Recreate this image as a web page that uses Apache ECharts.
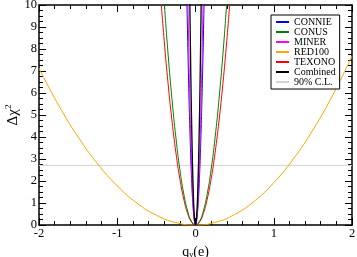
<!DOCTYPE html>
<html>
<head>
<meta charset="utf-8">
<script src="https://cdn.jsdelivr.net/npm/echarts@6/dist/echarts.min.js"></script>
<style>html,body{margin:0;padding:0;background:#fff}#c{width:357px;height:257px}</style>
</head>
<body>
<div id="c"></div>
<script>
const seriesNames = ['CONNIE','CONUS','MINER','RED100','TEXONO','Combined','90% C.L.'];
const xTicks = [-2,-1,0,1,2];
const yTicks = [0,1,2,3,4,5,6,7,8,9,10];
const connie = [[-0.11,10.19],[-0.09,6.82],[-0.07,4.13],[-0.05,2.11],[-0.03,0.76],[-0.01,0.08],[0,0],[0.01,0.08],[0.03,0.76],[0.05,2.11],[0.07,4.13],[0.09,6.82],[0.11,10.19]];
const conus = [[-0.42,11.17],[-0.4,10.13],[-0.35,7.75],[-0.3,5.70],[-0.25,3.96],[-0.2,2.53],[-0.15,1.42],[-0.1,0.63],[-0.05,0.16],[0,0],[0.05,0.16],[0.1,0.63],[0.15,1.42],[0.2,2.53],[0.25,3.96],[0.3,5.70],[0.35,7.75],[0.4,10.13],[0.42,11.17]];
const miner = [[-0.1,10.82],[-0.08,6.92],[-0.06,3.90],[-0.04,1.73],[-0.02,0.43],[0,0],[0.02,0.43],[0.04,1.73],[0.06,3.90],[0.08,6.92],[0.1,10.82]];
const red100 = [[-2,7.12],[-1.75,5.45],[-1.5,4.0],[-1.25,2.78],[-1,1.78],[-0.75,1.0],[-0.5,0.445],[-0.25,0.11],[0,0],[0.25,0.12],[0.5,0.48],[0.75,1.08],[1,1.92],[1.25,3.0],[1.5,4.32],[1.75,5.88],[2,7.68]];
const texono = [[-0.46,11.09],[-0.45,10.61],[-0.4,8.38],[-0.35,6.42],[-0.3,4.72],[-0.25,3.28],[-0.2,2.10],[-0.15,1.18],[-0.1,0.52],[-0.05,0.13],[0,0],[0.05,0.13],[0.1,0.52],[0.15,1.18],[0.2,2.10],[0.25,3.28],[0.3,4.72],[0.35,6.42],[0.4,8.38],[0.45,10.61],[0.46,11.09]];
const combined = [[-0.075,10.69],[-0.06,6.84],[-0.045,3.85],[-0.03,1.71],[-0.015,0.43],[0,0],[0.015,0.43],[0.03,1.71],[0.045,3.85],[0.06,6.84],[0.075,10.69]];
const cl90 = [[-2,2.71],[2,2.71]];

const colors = {CONNIE:'#0000ff',CONUS:'#008000',MINER:'#ff00ff',RED100:'#ffa500',TEXONO:'#ff0000',Combined:'#000000','90% C.L.':'#d3d3d3'};
const dataMap = {CONNIE:connie,CONUS:conus,MINER:miner,RED100:red100,TEXONO:texono,Combined:combined,'90% C.L.':cl90};
const zMap = {'90% C.L.':1,RED100:2,TEXONO:3,CONUS:4,CONNIE:5,MINER:6,Combined:7};
const font = '"Liberation Serif", "DejaVu Serif", serif';

const chart = echarts.init(document.getElementById('c'), null, {renderer:'canvas'});
const axisCommon = {
  type:'value',
  axisLine:{show:true,onZero:false,lineStyle:{color:'#000',width:1.5}},
  axisTick:{show:true,inside:true,length:7,lineStyle:{color:'#000',width:1}},
  minorTick:{show:true,length:4,lineStyle:{color:'#000',width:1}},
  splitLine:{show:false},
  axisLabel:{color:'#000',fontFamily:font,fontSize:12.5}
};
chart.setOption({
  animation:false,
  backgroundColor:'#fff',
  textStyle:{fontFamily:font},
  grid:{left:39,right:5,top:5,bottom:32,containLabel:false,outerBoundsMode:'none'},
  legend:{
    data:seriesNames,
    orient:'vertical',
    left:271, top:15,
    backgroundColor:'#fff',
    borderColor:'#000', borderWidth:1,
    padding:[2,4,2,4],
    itemWidth:13, itemHeight:8.6, itemGap:0,
    itemStyle:{opacity:0},
    textStyle:{fontFamily:font,fontSize:10,color:'#000',lineHeight:8.6},
    selectedMode:false
  },
  xAxis:[
    Object.assign({}, axisCommon, {
      min:xTicks[0], max:xTicks[xTicks.length-1], interval:1,
      minorTick:Object.assign({},axisCommon.minorTick,{splitNumber:5}),
      axisLabel:Object.assign({},axisCommon.axisLabel,{margin:2}),
      name:'{q|q}{s|ν}{q|(e)}', nameLocation:'middle', nameGap:14,
      nameTextStyle:{fontFamily:font,rich:{q:{fontFamily:font,fontSize:14,color:'#000'},s:{fontFamily:font,fontSize:9,color:'#000',padding:[6,0,0,0]}}}
    }),
    Object.assign({}, axisCommon, {
      position:'top', min:xTicks[0], max:xTicks[xTicks.length-1], interval:1,
      minorTick:Object.assign({},axisCommon.minorTick,{splitNumber:5}),
      axisLabel:{show:false}
    })
  ],
  yAxis:[
    Object.assign({}, axisCommon, {
      min:yTicks[0], max:yTicks[yTicks.length-1], interval:1,
      minorTick:Object.assign({},axisCommon.minorTick,{splitNumber:4}),
      axisLabel:Object.assign({},axisCommon.axisLabel,{margin:2}),
      name:'{a|Δχ}{p|2}', nameLocation:'middle', nameGap:17, nameRotate:90, nameMoveOverlap:false,
      nameTextStyle:{fontFamily:font,rich:{a:{fontFamily:font,fontSize:15,color:'#000'},p:{fontFamily:font,fontSize:9,color:'#000',padding:[0,0,9,0]}}}
    }),
    Object.assign({}, axisCommon, {
      position:'right', min:yTicks[0], max:yTicks[yTicks.length-1], interval:1,
      minorTick:Object.assign({},axisCommon.minorTick,{splitNumber:4}),
      axisLabel:{show:false}
    })
  ],
  series:seriesNames.map(n=>({
    name:n, type:'line', data:dataMap[n], xAxisIndex:0, yAxisIndex:0,
    smooth:n!=='90% C.L.', symbol:'none', clip:true, z:zMap[n],
    color:colors[n],
    lineStyle:{color:colors[n],width:n==='Combined'?1.3:1}
  }))
});
</script>
</body>
</html>
